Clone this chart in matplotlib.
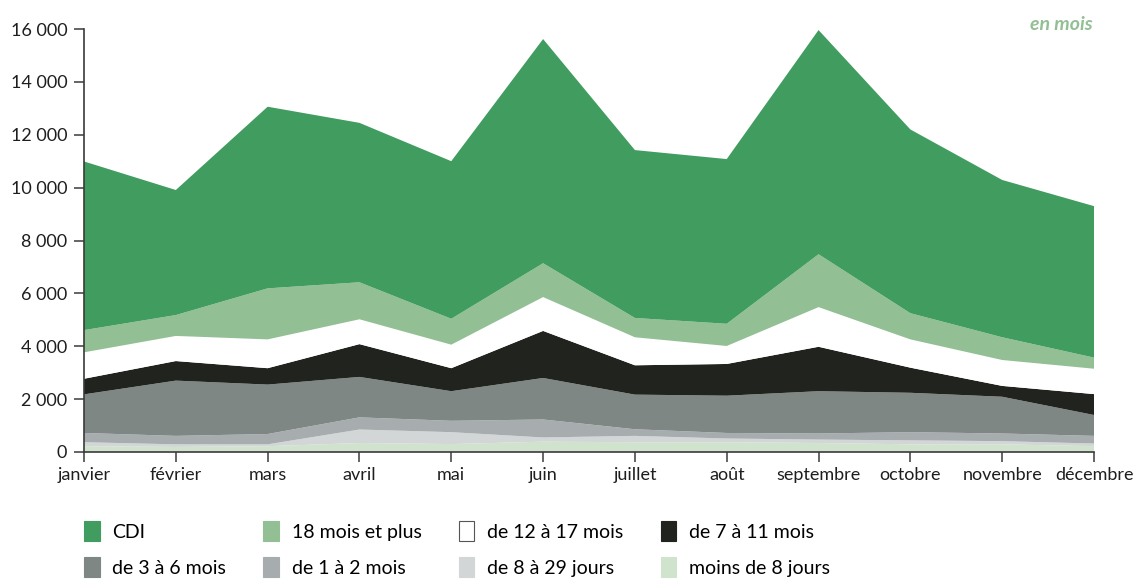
import matplotlib
matplotlib.use("Agg")
import matplotlib.pyplot as plt
from matplotlib.patches import Patch
import numpy as np

months = ["janvier", "février", "mars", "avril", "mai", "juin", "juillet",
          "août", "septembre", "octobre", "novembre", "décembre"]

moins_8_jours = [220, 190, 220, 340, 300, 390, 370, 370, 340, 290, 290, 220]
de_8_a_29_jours = [150, 100, 70, 510, 450, 160, 240, 140, 130, 150, 120, 100]
de_1_a_2_mois = [350, 320, 390, 460, 430, 680, 250, 210, 230, 310, 290, 290]
de_3_a_6_mois = [1460, 2090, 1870, 1530, 1120, 1570, 1310, 1410, 1600, 1490, 1390, 790]
de_7_a_11_mois = [590, 740, 620, 1240, 870, 1780, 1110, 1200, 1680, 950, 410, 790]
de_12_a_17_mois = [1000, 950, 1090, 940, 890, 1280, 1060, 680, 1500, 1070, 980, 960]
mois_18_et_plus = [840, 790, 1930, 1400, 980, 1280, 730, 840, 2000, 990, 860, 420]
cdi = [6380, 4730, 6870, 6030, 5960, 8480, 6350, 6230, 8480, 6950, 5950, 5730]

series = [moins_8_jours, de_8_a_29_jours, de_1_a_2_mois, de_3_a_6_mois,
          de_7_a_11_mois, de_12_a_17_mois, mois_18_et_plus, cdi]
labels = ["moins de 8 jours", "de 8 à 29 jours", "de 1 à 2 mois", "de 3 à 6 mois",
          "de 7 à 11 mois", "de 12 à 17 mois", "18 mois et plus", "CDI"]
colors = ["#d0e3cd", "#d3d6d7", "#a7adaf", "#7f8785",
          "#21231f", "#ffffff", "#93bf94", "#409c5f"]

y_ticks = [0, 2000, 4000, 6000, 8000, 10000, 12000, 14000, 16000]
y_tick_labels = ["0", "2 000", "4 000", "6 000", "8 000", "10 000", "12 000", "14 000", "16 000"]

plt.rcParams['font.family'] = ['Lato', 'DejaVu Sans']

fig = plt.figure(figsize=(11.36, 5.79), dpi=100)
ax = fig.add_axes([84 / 1136, 1 - 452 / 579, (1094 - 84) / 1136, (452 - 29) / 579])

x = np.arange(len(months))
ax.stackplot(x, series, colors=colors, linewidth=0)

ax.set_xlim(0, len(months) - 1)
ax.set_ylim(0, 16000)
ax.set_yticks(y_ticks)
ax.set_yticklabels(y_tick_labels)
ax.set_xticks(x)
ax.set_xticklabels(months)

for s in ["top", "right"]:
    ax.spines[s].set_visible(False)
for s in ["left", "bottom"]:
    ax.spines[s].set_color("#3a3a3a")
    ax.spines[s].set_linewidth(1.2)
ax.tick_params(axis="both", colors="#3a3a3a", labelcolor="#1e1e1e",
               labelsize=13, length=7, width=1.1, direction="out")
ax.tick_params(axis="y", pad=5)
ax.tick_params(axis="x", pad=4)

fig.text(1093 / 1136, 1 - 24 / 579, "en mois", ha="right", va="center",
         fontsize=14, fontstyle="italic", fontweight="bold", color="#93bf94")

order = [7, 3, 6, 2, 5, 1, 4, 0]
handles = [Patch(facecolor=colors[i], edgecolor=("#555555" if colors[i] == "#ffffff" else colors[i]),
                 linewidth=0.8, label=labels[i]) for i in order]
fig.legend(handles=handles, ncol=4, loc="upper left",
           bbox_to_anchor=(84 / 1136, 1 - 521 / 579), frameon=False,
           fontsize=14, handlelength=0.8, handleheight=1.2, handletextpad=0.65,
           columnspacing=1.92, labelspacing=0.85, borderaxespad=0, borderpad=0)

fig.savefig("out.png", dpi=100)
